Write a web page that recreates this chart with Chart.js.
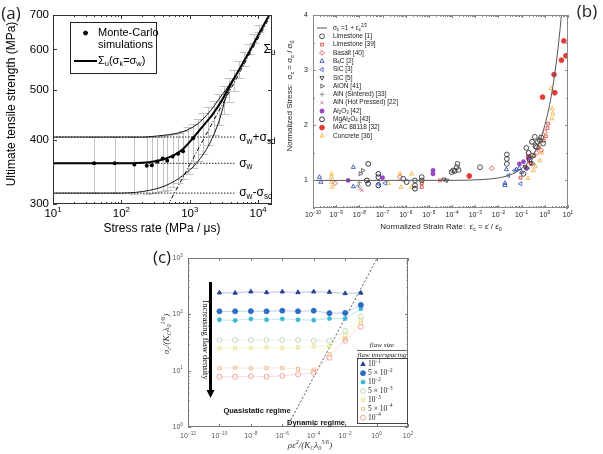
<!DOCTYPE html>
<html>
<head>
<meta charset="utf-8">
<script src="https://cdn.jsdelivr.net/npm/chart.js@4.4.1/dist/chart.umd.min.js"></script>
<style>
  html, body { margin: 0; padding: 0; background: #fff; width: 603px; height: 454px; overflow: hidden; }
  body { position: relative; }
  canvas { position: absolute; }
  #ca { left: 0; top: 0; }
  #cb { left: 280px; top: 0; }
  #cc { left: 130px; top: 240px; }
</style>
</head>
<body>
<canvas id="ca" width="300" height="240"></canvas>
<canvas id="cb" width="323" height="240"></canvas>
<canvas id="cc" width="300" height="214"></canvas>
<script>
// ── (a) ultimate tensile strength vs stress rate ──────────────────────────
const aYTicks = [300, 400, 500, 600, 700];
const aCurveX = [10, 100, 200, 300, 450, 600, 800, 1100, 1400, 1750, 2100, 2500, 3000, 3800, 4700, 5900, 7400, 9300, 12000, 16000];
const aCurveY = [360, 360, 361, 363, 368, 374, 384, 402, 418, 433, 446, 461, 479, 508, 533, 562, 593, 627, 668, 715];
const aUpperX = [10, 100, 200, 400, 600, 800, 1100, 1400, 1750, 2100, 2500, 3000, 3800, 4700];
const aUpperY = [405, 405, 405, 408, 411, 415, 423, 433, 446, 459, 474, 490, 512, 535];
const aLowerX = [10, 50, 100, 160, 260, 450, 800, 1250, 1950, 2720, 3400, 4000, 4700];
const aLowerY = [315, 315, 315, 316, 319, 326, 341, 360, 393, 437, 485, 510, 533];
const aLevels = [405, 360, 315]; // σw+σsd, σw, σw-σsd
const aLevelEnd = 4500;
const aAsymX = [470, 16000];
const aAsymY = [297, 707];
// Monte-Carlo means (visible ones; beyond ~1e3 they sit under the thick curve)
const mcRate = [40, 80, 155, 236, 279, 336, 402, 469, 561, 677, 800, 1120];
const mcMean = [360, 360, 358, 356, 357, 363, 368, 364, 371, 376, 380, 403];
// error bars of the simulations
const ebRate = [40, 80, 155, 236, 279, 336, 402, 469, 561, 677, 800, 950, 1120, 1330, 1580, 1880, 2230, 2650, 3150, 3740, 4440, 5270, 6260, 7430, 8820, 10470];
const ebLow  = [315, 315, 314, 314, 315, 316, 318, 320, 324, 329, 335, 343, 352, 363, 376, 391, 408, 427, 449, 473, 499, 527, 557, 588, 618, 648];
const ebHigh = [405, 405, 405, 405, 405, 406, 407, 408, 410, 413, 417, 423, 430, 440, 451, 463, 477, 492, 509, 528, 548, 570, 592, 616, 642, 668];

// ── (b) normalized stress vs normalized strain rate ───────────────────────
const bYMajor = [1, 2, 3, 4];
const bYMinor = [0.5, 1.5, 2.5, 3.5];
const bCurve = [[1e-10, 1], [1e-4, 1.002], [1e-3, 1.01], [1e-2, 1.046], [3e-2, 1.097], [0.1, 1.215], [0.2, 1.342], [0.4, 1.543], [0.7, 1.788], [1, 2.0], [1.5, 2.31], [2, 2.587], [3, 3.08], [4, 3.52], [5, 3.92], [5.4, 4.08]];
const limestone1 = [[2.5e-6, 1.0], [2.5e-6, 0.91], [4.9e-6, 1.06], [4.9e-6, 1.0], [7.9e-7, 1.03], [1.1e-6, 0.97], [9.5e-5, 1.15], [1.1e-4, 1.18], [1.3e-4, 1.17], [1.6e-4, 1.24], [1.7e-4, 1.30], [1.9e-4, 1.19], [1.6e-3, 1.24], [2.3e-2, 1.47], [2.3e-2, 1.39], [2.3e-2, 1.30], [0.16, 1.59], [0.37, 1.79], [0.6, 1.73], [0.85, 1.67], [0.45, 1.6], [0.3, 1.45], [0.22, 1.38], [0.12, 1.12], [0.5, 1.7]];
const limestone39 = [[4.9e-6, 0.95], [4.9e-6, 0.88], [3e-5, 1.0], [0.09, 1.05], [0.35, 1.45], [0.55, 1.6], [0.9, 1.72], [1.1, 1.8], [1.3, 1.95], [1.4, 2.03], [0.25, 1.3]];
const basalt40 = [[8.9e-10, 0.95], [5.6e-7, 1.06], [5.1e-3, 1.22], [0.7, 1.55], [1.0, 1.88], [0.45, 1.5]];
const b4c2 = [[1.9e-10, 1.06], [2.2e-10, 0.97], [5.5e-9, 1.24], [5.5e-9, 0.89], [1.9e-2, 0.95], [1.9e-2, 0.91], [2.2e-2, 1.2], [0.06, 1.2], [0.08, 1.22], [0.1, 1.15]];
const sic3 = [[6.6e-8, 0.94], [1.3e-7, 0.95], [2.7e-2, 1.09], [0.05, 1.18], [0.09, 0.94]];
const sic5 = [[5.9e-5, 1.0], [4.5e-5, 1.02], [0.14, 1.25], [0.25, 1.32]];
const alon41 = [[1.1e-8, 1.12], [1.4e-8, 1.18], [0.18, 1.22], [0.3, 1.3]];
const alnSint33 = [[9e-9, 0.9], [1e-8, 0.96], [0.28, 1.42]];
const alnHot22 = [[1.1e-8, 0.85], [1.3e-8, 0.82], [0.2, 1.32]];
const al2o3_42 = [[3.3e-9, 1.0], [1.0e-7, 1.05], [1.5e-5, 1.18], [1.5e-5, 1.12], [0.08, 1.3], [0.12, 1.34], [0.16, 1.22], [0.2, 1.4]];
const mgal2o4_43 = [[2.4e-8, 1.30], [2.1e-8, 1.0], [2.4e-8, 0.94], [6.6e-8, 1.12], [6.6e-8, 1.06], [6.6e-8, 0.91], [2.5e-6, 0.85], [0.28, 1.7], [0.4, 1.62], [0.2, 1.5], [0.7, 1.78]];
const mac88118 = [[5.5e-4, 1.08], [0.8, 2.51], [2.5, 2.92], [2.7, 2.59], [5.2, 3.18], [6.6, 3.53], [8.1, 3.26], [0.2, 1.42]];
const concrete36 = [[6.3e-10, 1.12], [6.3e-10, 1.06], [6.3e-10, 0.97], [6.8e-10, 0.88], [1.8e-7, 0.95], [5.6e-7, 1.12], [6.3e-7, 0.88], [1.8e-6, 1.12], [1.8e-6, 0.88], [1.9, 2.67], [2.1, 2.30], [2.2, 2.21], [2.0, 2.12], [0.19, 1.04], [0.32, 1.18], [0.6, 1.36], [0.75, 1.5], [0.4, 1.25]];

// ── (c) critical stress vs loading parameter ──────────────────────────────
const cX = [1e-10, 1e-9, 1e-8, 1e-7, 1e-6, 1e-5, 1e-4, 1e-3, 1e-2, 1e-1];
const cS1 = [242, 240, 252, 245, 252, 245, 252, 248, 235, 240];
const cS2 = [113, 113, 114, 113, 116, 113, 116, 105, 106, 147];
const cS3 = [80, 78, 83, 80, 83, 80, 79, 84, 84, 125];
const cS4 = [35, 35, 35, 35, 35, 35, 34, 34, 51, 91];
const cS5 = [25, 25, 25, 26, 25, 26, 27, 27, 43, 80];
const cS6 = [11, 11.3, 11, 11.2, 11.2, 10.7, 10.4, 19.6, 37, 70];
const cS7 = [7.8, 7.8, 8.0, 7.8, 8.1, 8.6, 9.2, 17, 34, 60];
const cLegend = ['10^{−1}', '5 × 10^{−2}', '10^{−2}', '5 × 10^{−3}', '10^{−3}', '5 × 10^{−4}', '10^{−4}'];
const cLineX = [2e-6, 1.1];
const cLineY = [1, 1000];

// ── helpers ───────────────────────────────────────────────────────────────
const SANS = '"Liberation Sans", Arial, sans-serif';
const SERIF = '"Liberation Serif", "DejaVu Serif", serif';
const PANEL = '"Open Sans", sans-serif';

const pts = (xs, ys) => xs.map((x, i) => ({ x, y: ys[i] }));
const pairs = (arr) => arr.map(([x, y]) => ({ x, y }));
const pow10 = (v) => '10^{' + String(Math.round(Math.log10(v))).replace('-', '−') + '}';

// "a_{b}^{c}" → [[text, 0|-1|1], ...]
function parseRich(s) {
  const out = [];
  const re = /([_^])\{([^}]*)\}/g;
  let last = 0, m;
  while ((m = re.exec(s))) {
    if (m.index > last) out.push([s.slice(last, m.index), 0]);
    out.push([m[2], m[1] === '^' ? 1 : -1]);
    last = re.lastIndex;
  }
  if (last < s.length) out.push([s.slice(last), 0]);
  return out;
}

function drawRich(ctx, s, x, y, o) {
  const size = o.size || 10;
  const font = (k) => `${o.style || 'normal'} ${o.weight || 'normal'} ${k ? size * 0.68 : size}px ${o.family || SANS}`;
  const parts = parseRich(s);
  ctx.save();
  ctx.translate(x, y);
  if (o.rot) ctx.rotate(o.rot);
  let w = 0;
  for (const p of parts) { ctx.font = font(p[1]); w += ctx.measureText(p[0]).width; }
  let cx = o.align === 'left' ? 0 : o.align === 'right' ? -w : -w / 2;
  ctx.fillStyle = o.color || '#000';
  ctx.textBaseline = 'middle';
  ctx.textAlign = 'left';
  for (const [t, k] of parts) {
    ctx.font = font(k);
    ctx.fillText(t, cx, k > 0 ? -size * 0.36 : k < 0 ? size * 0.28 : 0);
    cx += ctx.measureText(t).width;
  }
  ctx.restore();
}

function logTicks(lo, hi, step, minor) {
  return (scale) => {
    const t = [];
    for (let e = lo; e <= hi; e += step) {
      const b = Math.pow(10, e);
      t.push({ value: b, major: true });
      if (minor) for (let k = 2; k <= 9; k++) t.push({ value: k * b, major: false });
    }
    scale.ticks = t;
  };
}

// box frame, inward ticks on all four sides, tick labels
function frameTicks(cfg) {
  const inside = (s, v) => v >= s.min - Math.abs(s.min) * 1e-9 && v <= s.max + Math.abs(s.max) * 1e-9;
  return {
    id: 'frameTicks',
    afterDraw(chart) {
      const { ctx, chartArea: a } = chart;
      const sx = chart.scales.x, sy = chart.scales.y;
      ctx.save();
      ctx.strokeStyle = cfg.color;
      ctx.lineWidth = 1;
      ctx.beginPath();
      for (const t of sx.ticks) {
        if (!inside(sx, t.value)) continue;
        const p = Math.round(sx.getPixelForValue(t.value)) + 0.5;
        const L = t.major ? cfg.len : cfg.minorLen;
        ctx.moveTo(p, a.bottom); ctx.lineTo(p, a.bottom - L);
        ctx.moveTo(p, a.top); ctx.lineTo(p, a.top + L);
      }
      for (const t of sy.ticks) {
        if (!inside(sy, t.value)) continue;
        const p = Math.round(sy.getPixelForValue(t.value)) + 0.5;
        const L = t.major ? cfg.len : cfg.minorLen;
        ctx.moveTo(a.left, p); ctx.lineTo(a.left + L, p);
        ctx.moveTo(a.right, p); ctx.lineTo(a.right - L, p);
      }
      ctx.stroke();
      ctx.strokeRect(Math.round(a.left) + 0.5, Math.round(a.top) + 0.5, Math.round(a.right - a.left) - 1, Math.round(a.bottom - a.top) - 1);
      const f = Object.assign({ color: cfg.labelColor }, cfg.font);
      for (const t of sx.ticks) {
        if (!t.major || !inside(sx, t.value)) continue;
        drawRich(ctx, cfg.xFmt(t.value), sx.getPixelForValue(t.value), a.bottom + cfg.xPad, Object.assign({ align: 'center' }, f));
      }
      for (const t of sy.ticks) {
        if (!t.major || !inside(sy, t.value)) continue;
        drawRich(ctx, cfg.yFmt(t.value), a.left - cfg.yPad, sy.getPixelForValue(t.value), Object.assign({ align: 'right' }, f));
      }
      ctx.restore();
    },
  };
}

// free texts, arrows and rules, in pixels or in data values
function textLayer(items) {
  return {
    id: 'textLayer',
    afterDraw(chart) {
      const { ctx, scales } = chart;
      for (const it of items) {
        const x = it.xv !== undefined ? scales.x.getPixelForValue(it.xv) : it.x;
        const y = it.yv !== undefined ? scales.y.getPixelForValue(it.yv) : it.y;
        ctx.save();
        if (it.arrow) {
          ctx.fillStyle = it.color || '#000';
          ctx.fillRect(x - 1.5, y, 3, it.arrow - 7);
          ctx.beginPath();
          ctx.moveTo(x - 4, y + it.arrow - 8); ctx.lineTo(x + 4, y + it.arrow - 8); ctx.lineTo(x, y + it.arrow);
          ctx.closePath(); ctx.fill();
        } else if (it.rule) {
          ctx.strokeStyle = it.color || '#000'; ctx.lineWidth = 0.7;
          ctx.beginPath(); ctx.moveTo(x, y); ctx.lineTo(x + it.rule, y); ctx.stroke();
        } else {
          drawRich(ctx, it.t, x, y, it);
        }
        ctx.restore();
      }
    },
  };
}

function markerLegend(cfg) {
  return {
    id: 'markerLegend',
    afterDraw(chart) {
      const { ctx } = chart;
      const sets = chart.data.datasets.filter((d) => d.legend !== undefined)
        .sort((p, q) => (p.legendIdx || 0) - (q.legendIdx || 0));
      ctx.save();
      if (cfg.box) {
        const [bx, by, bw, bh] = cfg.box;
        ctx.fillStyle = '#fff'; ctx.fillRect(bx, by, bw, bh);
        ctx.strokeStyle = cfg.boxColor; ctx.lineWidth = 1;
        ctx.strokeRect(bx + 0.5, by + 0.5, bw, bh);
      }
      let y = cfg.y;
      for (const d of sets) {
        const lines = d.legend.split('\n');
        ctx.setLineDash([]);
        if (!d.pointRadius) {
          ctx.strokeStyle = d.borderColor; ctx.lineWidth = d.borderWidth;
          ctx.beginPath(); ctx.moveTo(cfg.mx - cfg.lineLen / 2, y); ctx.lineTo(cfg.mx + cfg.lineLen / 2, y); ctx.stroke();
        } else {
          ctx.strokeStyle = d.pointBorderColor || d.borderColor;
          ctx.fillStyle = d.pointBackgroundColor || d.backgroundColor || 'rgba(0,0,0,0)';
          ctx.lineWidth = d.pointBorderWidth || 1;
          Chart.helpers.drawPoint(ctx, { pointStyle: d.pointStyle || 'circle', radius: d.pointRadius, rotation: d.pointRotation || 0, borderWidth: ctx.lineWidth }, cfg.mx, y);
        }
        lines.forEach((s, i) => drawRich(ctx, s, cfg.tx, y + i * (cfg.lineH || 0), Object.assign({ align: 'left' }, cfg.font)));
        y += cfg.dy + (lines.length - 1) * (cfg.lineH || 0);
      }
      ctx.restore();
    },
  };
}

function errorBars(xs, lo, hi, color, cap) {
  return {
    id: 'errorBars',
    beforeDatasetsDraw(chart) {
      const { ctx, chartArea: a, scales: { x, y } } = chart;
      ctx.save();
      ctx.beginPath(); ctx.rect(a.left, a.top, a.right - a.left, a.bottom - a.top); ctx.clip();
      ctx.strokeStyle = color; ctx.lineWidth = 1;
      ctx.beginPath();
      xs.forEach((v, i) => {
        const px = Math.round(x.getPixelForValue(v)) + 0.5;
        const pl = Math.round(y.getPixelForValue(lo[i])) + 0.5;
        const ph = Math.round(y.getPixelForValue(hi[i])) + 0.5;
        ctx.moveTo(px, pl); ctx.lineTo(px, ph);
        ctx.moveTo(px - cap, pl); ctx.lineTo(px + cap, pl);
        ctx.moveTo(px - cap, ph); ctx.lineTo(px + cap, ph);
      });
      ctx.stroke();
      ctx.restore();
    },
  };
}

function baseOptions(p, xs, ys) {
  const hidden = { ticks: { display: false }, grid: { display: false }, border: { display: false } };
  return {
    responsive: false,
    animation: false,
    devicePixelRatio: 1,
    layout: { padding: p.pad },
    plugins: { legend: { display: false }, tooltip: { enabled: false } },
    scales: {
      x: Object.assign({}, hidden, { afterFit: (s) => { s.height = p.xh; } }, xs),
      y: Object.assign({}, hidden, { afterFit: (s) => { s.width = p.yw; } }, ys),
    },
  };
}

const line = (data, color, width, extra) => Object.assign({
  data, showLine: true, borderColor: color, borderWidth: width, pointRadius: 0, fill: false,
}, extra || {});

// ── panel (a) ─────────────────────────────────────────────────────────────
new Chart(document.getElementById('ca'), {
  type: 'scatter',
  data: {
    datasets: [
      line(pts(aCurveX, aCurveY), '#000', 2, { cubicInterpolationMode: 'monotone', legend: 'Σ_{u}(σ_{k}=σ_{w})', legendIdx: 1 }),
      line(pts(aUpperX, aUpperY), '#111', 1, { cubicInterpolationMode: 'monotone' }),
      line(pts(aLowerX, aLowerY), '#111', 1, { cubicInterpolationMode: 'monotone' }),
      ...aLevels.map((v) => line([{ x: 10, y: v }, { x: aLevelEnd, y: v }], '#222', 1, { borderDash: [1.5, 1.5] })),
      line(pts(aAsymX, aAsymY), '#000', 1, { borderDash: [4, 2, 1, 2] }),
      { data: pts(mcRate, mcMean), pointRadius: 2, backgroundColor: '#000', borderColor: '#000', pointBorderWidth: 0, legend: 'Monte-Carlo\nsimulations', legendIdx: 0 },
    ],
  },
  options: baseOptions(
    { pad: { left: 0, right: 28, top: 15, bottom: 0 }, yw: 53, xh: 36 },
    { type: 'logarithmic', min: 10, max: 16000, afterBuildTicks: logTicks(1, 4, 1, true) },
    { type: 'logarithmic', min: 300, max: 700, afterBuildTicks: (s) => { s.ticks = aYTicks.map((v) => ({ value: v, major: true })); } }
  ),
  plugins: [
    errorBars(ebRate, ebLow, ebHigh, '#c2c2c2', 5),
    frameTicks({ color: '#333', len: 4, minorLen: 2, labelColor: '#000', font: { size: 11.5 }, xPad: 10, yPad: 4, xFmt: pow10, yFmt: (v) => String(v) }),
    markerLegend({ box: [70, 22, 86, 51], boxColor: '#222', mx: 85.5, tx: 98, y: 33, dy: 16, lineH: 12, lineLen: 23, font: { size: 11 } }),
    textLayer([
      { t: '(a)', x: 11, y: 14, size: 17, family: PANEL, color: '#222' },
      { t: 'Ultimate tensile strength (MPa)', x: 12, y: 104, size: 12, rot: -Math.PI / 2 },
      { t: 'Stress rate (MPa / μs)', x: 162, y: 229, size: 12 },
      { t: 'Σ_{u}', xv: 12000, yv: 600, size: 12, align: 'left' },
      { t: 'σ_{w}+σ_{sd}', xv: 5300, yv: 403, size: 12, align: 'left' },
      { t: 'σ_{w}', xv: 5300, yv: 360, size: 12, align: 'left' },
      { t: 'σ_{w}-σ_{sd}', xv: 5300, yv: 315, size: 12, align: 'left' },
    ]),
  ],
});

// ── panel (b) ─────────────────────────────────────────────────────────────
const bMaterials = [
  ['Limestone [1]', limestone1, 'circle', 0, '#3a3a3a', false],
  ['Limestone [39]', limestone39, 'rect', 0, '#e0443c', false],
  ['Basalt [40]', basalt40, 'rectRot', 0, '#e2504a', false],
  ['B_{4}C [2]', b4c2, 'triangle', 0, '#3552b5', false],
  ['SiC [3]', sic3, 'triangle', -90, '#4a66cc', false],
  ['SiC [5]', sic5, 'triangle', 180, '#3a3a3a', false],
  ['AlON [41]', alon41, 'triangle', 90, '#5a5a5a', false],
  ['AlN (Sintered) [33]', alnSint33, 'cross', 0, '#8a8a8a', false],
  ['AlN (Hot Pressed) [22]', alnHot22, 'crossRot', 0, '#c8709a', false],
  ['Al_{2}O_{3} [42]', al2o3_42, 'star', 0, '#9a46c6', false],
  ['MgAl_{2}O_{4} [43]', mgal2o4_43, 'circle', 0, '#1e1e1e', false],
  ['MAC 88118 [32]', mac88118, 'circle', 0, '#e23a36', true],
  ['Concrete [36]', concrete36, 'triangle', 0, '#f0b445', false],
];

new Chart(document.getElementById('cb'), {
  type: 'scatter',
  data: {
    datasets: [
      line(pairs(bCurve), '#555', 1, { cubicInterpolationMode: 'monotone', legend: 'σ_{c} =1 + ε̇_{c}^{2/3}', legendIdx: 0 }),
      ...bMaterials.map(([label, arr, style, rot, color, filled], i) => ({
        data: pairs(arr),
        pointStyle: style,
        pointRotation: rot,
        pointRadius: style === 'rect' ? 2 : 2.4,
        borderColor: color,
        backgroundColor: filled ? color : 'rgba(0,0,0,0)',
        pointBorderWidth: style === 'star' ? 1.4 : 0.9,
        legend: label,
        legendIdx: i + 1,
      })),
    ],
  },
  options: baseOptions(
    { pad: { left: 0, right: 35, top: 15, bottom: 0 }, yw: 33, xh: 32 },
    { type: 'logarithmic', min: 1e-10, max: 10, afterBuildTicks: logTicks(-10, 1, 1, true) },
    { type: 'linear', min: 0.5, max: 4, afterBuildTicks: (s) => {
      s.ticks = bYMajor.map((v) => ({ value: v, major: true })).concat(bYMinor.map((v) => ({ value: v, major: false })));
    } }
  ),
  plugins: [
    frameTicks({ color: '#888', len: 3, minorLen: 2, labelColor: '#222', font: { size: 7 }, xPad: 7, yPad: 5, xFmt: pow10, yFmt: (v) => String(v) }),
    markerLegend({ mx: 42, tx: 53, y: 28, dy: 8.3, lineLen: 10, font: { size: 6.5, color: '#222' } }),
    textLayer([
      { t: '(b)', x: 307, y: 12, size: 17, family: PANEL, color: '#222' },
      { t: 'Normalized Stress:  σ_{c} = σ_{c} / σ_{0}', x: 10, y: 96, size: 8, rot: -Math.PI / 2, color: '#222' },
      { t: 'Normalized Strain Rate:  ε̇_{c} = ε̇ / ε̇_{0}', x: 161, y: 227, size: 8, color: '#222' },
    ]),
  ],
});

// ── panel (c) ─────────────────────────────────────────────────────────────
const cSeries = [
  [cS1, 'triangle', '#203f92', true],
  [cS2, 'circle', '#2c6cc2', true],
  [cS3, 'star', '#36b9cf', false],
  [cS4, 'circle', '#bcd8b4', false],
  [cS5, 'rect', '#e9df78', false],
  [cS6, 'rect', '#eeb584', false],
  [cS7, 'circle', '#f09a9a', false],
];

new Chart(document.getElementById('cc'), {
  type: 'scatter',
  data: {
    datasets: [
      ...cSeries.map(([ys, style, color, filled], i) => ({
        data: pts(cX, ys),
        showLine: true,
        borderColor: color + '88',
        borderWidth: 0.6,
        pointStyle: style,
        pointRadius: style === 'rect' ? 2.2 : 2.5,
        pointBorderColor: color,
        pointBackgroundColor: filled ? color : 'rgba(0,0,0,0)',
        pointBorderWidth: style === 'star' ? 1.2 : 0.9,
        legend: cLegend[i],
        legendIdx: i,
      })),
      line(pts(cLineX, cLineY), '#444', 0.9, { borderDash: [2, 2] }),
    ],
  },
  options: baseOptions(
    { pad: { left: 0, right: 22, top: 18, bottom: 0 }, yw: 58, xh: 27 },
    { type: 'logarithmic', min: 1e-12, max: 100, afterBuildTicks: logTicks(-12, 2, 2, false) },
    { type: 'logarithmic', min: 1, max: 1000, afterBuildTicks: logTicks(0, 3, 1, true) }
  ),
  plugins: [
    frameTicks({ color: '#777', len: 3, minorLen: 1.5, labelColor: '#555', font: { size: 7 }, xPad: 9, yPad: 5, xFmt: pow10, yFmt: pow10 }),
    textLayer([
      { t: '(c)', x: 32, y: 18, size: 17, family: PANEL, color: '#222' },
      { t: 'σ_{c}/(K_{C}λ_{0}^{1/6})', x: 37, y: 94, size: 9, family: SERIF, style: 'italic', rot: -Math.PI / 2, color: '#333' },
      { t: 'ρε̇^{2}/(K_{C}λ_{0}^{5/6})', x: 180, y: 206, size: 9, family: SERIF, style: 'italic', color: '#333' },
      { t: 'Increasing flaw density', x: 75, y: 100, size: 8.5, family: SERIF, rot: Math.PI / 2, color: '#111' },
      { arrow: 116, x: 80.5, y: 42 },
      { t: 'Quasistatic regime', x: 127, y: 171, size: 7.5, weight: 'bold', color: '#111' },
      { t: 'Dynamic regime', x: 186, y: 183, size: 7.5, weight: 'bold', color: '#111' },
      { t: 'flaw size', x: 252, y: 105, size: 7, family: SERIF, style: 'italic', color: '#222' },
      { rule: 50, x: 227, y: 110.5, color: '#222' },
      { t: 'flaw interspacing', x: 252, y: 115, size: 7, family: SERIF, style: 'italic', color: '#222' },
    ]),
    markerLegend({ box: [227, 118, 50, 65], boxColor: '#444', mx: 233, tx: 238, y: 124.3, dy: 8.9, lineLen: 8, font: { size: 7.5, family: SERIF, color: '#222' } }),
  ],
});
</script>
</body>
</html>
